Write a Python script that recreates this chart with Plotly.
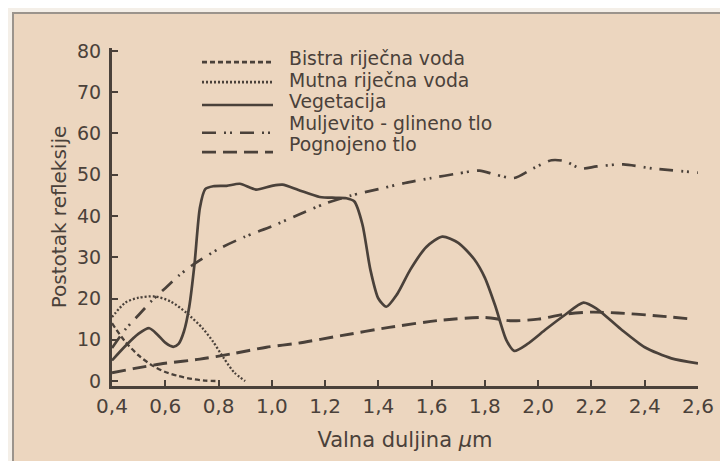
import plotly.graph_objects as go

# ---- data ----
x_ticks = [0.4, 0.6, 0.8, 1.0, 1.2, 1.4, 1.6, 1.8, 2.0, 2.2, 2.4, 2.6]
x_tick_labels = ["0,4", "0,6", "0,8", "1,0", "1,2", "1,4", "1,6", "1,8", "2,0", "2,2", "2,4", "2,6"]
y_ticks = [0, 10, 20, 30, 40, 50, 60, 70, 80]

bistra_x = [0.40, 0.45, 0.50, 0.55, 0.60, 0.65, 0.70, 0.75, 0.80]
bistra_y = [14.0, 9.5, 6.2, 3.8, 2.2, 1.2, 0.5, 0.1, 0.0]

mutna_x = [0.40, 0.45, 0.50, 0.56, 0.62, 0.68, 0.74, 0.78, 0.82, 0.86, 0.90]
mutna_y = [15.5, 19.0, 20.2, 20.5, 19.3, 16.5, 12.8, 9.5, 5.5, 2.0, 0.0]

veg_x = [0.40, 0.45, 0.50, 0.54, 0.57, 0.60, 0.63, 0.65, 0.67, 0.69, 0.71, 0.73, 0.75, 0.78,
         0.83, 0.88, 0.94, 1.00, 1.04, 1.10, 1.18, 1.24, 1.28, 1.31, 1.34, 1.37, 1.40, 1.43,
         1.47, 1.52, 1.58, 1.64, 1.70, 1.76, 1.80, 1.84, 1.88, 1.91, 1.96, 2.03, 2.10, 2.17,
         2.22, 2.31, 2.40, 2.50, 2.60]
veg_y = [5.0, 8.5, 11.5, 12.8, 11.3, 9.3, 8.3, 9.0, 12.0, 18.0, 28.5, 42.0, 46.5, 47.2,
         47.3, 47.8, 46.4, 47.3, 47.6, 46.3, 44.6, 44.4, 44.3, 43.5, 38.0, 27.0, 20.0, 18.0,
         21.0, 27.0, 32.5, 35.0, 33.5, 29.5, 25.0, 18.0, 10.0, 7.3, 9.0, 12.6, 16.0, 19.0,
         17.5, 12.6, 8.2, 5.5, 4.3]

mulj_x = [0.40, 0.45, 0.50, 0.55, 0.60, 0.65, 0.70, 0.80, 0.90, 1.00, 1.10, 1.20, 1.30,
          1.40, 1.50, 1.60, 1.70, 1.78, 1.84, 1.91, 1.98, 2.05, 2.10, 2.16, 2.22, 2.32,
          2.43, 2.60]
mulj_y = [8.0, 12.5, 16.0, 19.5, 22.5, 25.5, 28.0, 32.0, 35.0, 37.5, 40.3, 43.0, 45.0,
          46.5, 48.0, 49.2, 50.3, 51.0, 50.0, 49.2, 51.5, 53.5, 53.3, 51.5, 52.0, 52.5,
          51.5, 50.5]

pogn_x = [0.40, 0.48, 0.60, 0.73, 0.85, 0.98, 1.10, 1.26, 1.44, 1.63, 1.80, 1.90, 2.00,
          2.10, 2.20, 2.30, 2.43, 2.58]
pogn_y = [2.0, 3.0, 4.3, 5.3, 6.6, 8.2, 9.2, 11.0, 13.0, 14.7, 15.4, 14.6, 15.0,
          16.2, 16.7, 16.5, 15.9, 15.0]

series_names = ["Bistra riječna voda", "Mutna riječna voda", "Vegetacija",
                "Muljevito - glineno tlo", "Pognojeno tlo"]

# ---- styling ----
INK = "#4a413a"
BEIGE = "#ecd6bf"
OUTSIDE = "#f4efe8"
FONT = "DejaVu Sans"
OFF = 8                      # page body margin of the html page
W, H = 728 - OFF, 461 - OFF
ML, MT = 112 - OFF, 48 - OFF
PR, PB = 698 - OFF, 395 - OFF
MR, MB = W - PR, H - PB
PW, PH = PR - ML, PB - MT

def pxx(px):
    return (px - OFF - ML) / PW

def pxy(py):
    return (PB - (py - OFF)) / PH

dashes = ["5px,3px", "2px,2px", "solid", "14px,8px,2px,4px,2px,8px", "14px,7px"]
widths = [2.3, 2.3, 2.7, 2.7, 2.9]
xs = [bistra_x, mutna_x, veg_x, mulj_x, pogn_x]
ys = [bistra_y, mutna_y, veg_y, mulj_y, pogn_y]

fig = go.Figure()
for name, x, y, d, w in zip(series_names, xs, ys, dashes, widths):
    fig.add_trace(go.Scatter(x=x, y=y, name=name, mode="lines",
                             line=dict(color=INK, width=w, dash=d, shape="spline", smoothing=0.7),
                             showlegend=False))

shapes = [
    # beige panel with thin frame
    dict(type="rect", xref="paper", yref="paper", layer="below",
         x0=pxx(13), x1=pxx(760), y0=pxy(500), y1=pxy(12),
         fillcolor=BEIGE, line=dict(color="#9b948c", width=2)),
]

# custom legend (long sample lines like the reference)
leg_line_y = [62.5, 83, 106.5, 135, 155]
leg_text_y = [59, 81, 103, 125, 147]
annotations = []
for name, d, ly, ty in zip(series_names, dashes, leg_line_y, leg_text_y):
    shapes.append(dict(type="line", xref="paper", yref="paper",
                       x0=pxx(202), x1=pxx(273), y0=pxy(ly), y1=pxy(ly),
                       line=dict(color=INK, width=2.7, dash=d)))
    annotations.append(dict(xref="paper", yref="paper", x=pxx(287), y=pxy(ty),
                            text=name, showarrow=False, xanchor="left", yanchor="middle",
                            font=dict(family=FONT, size=18.8, color=INK)))

fig.update_layout(
    width=W, height=H,
    margin=dict(l=ML, r=MR, t=MT, b=MB, pad=0),
    paper_bgcolor=OUTSIDE,
    plot_bgcolor="rgba(0,0,0,0)",
    shapes=shapes,
    annotations=annotations,
    font=dict(family=FONT, color=INK),
    xaxis=dict(range=[0.4, 2.6], tickvals=x_ticks, ticktext=x_tick_labels,
               showgrid=False, zeroline=False, showline=True, linecolor=INK, linewidth=3,
               ticks="inside", ticklen=6, tickwidth=2, tickcolor=INK,
               tickfont=dict(family=FONT, size=20, color=INK), ticklabelstandoff=0,
               title=dict(text="Valna duljina <i>μ</i>m", font=dict(family=FONT, size=21, color=INK),
                          standoff=16)),
    yaxis=dict(range=[-1.2, 80.7], tickvals=y_ticks,
               showgrid=False, zeroline=False, showline=True, linecolor=INK, linewidth=3,
               ticks="inside", ticklen=6, tickwidth=2, tickcolor=INK,
               tickfont=dict(family=FONT, size=19, color=INK), ticklabelstandoff=4,
               title=dict(text="Postotak refleksije", font=dict(family=FONT, size=20, color=INK),
                          standoff=6)),
)

fig.write_html("out.html")
